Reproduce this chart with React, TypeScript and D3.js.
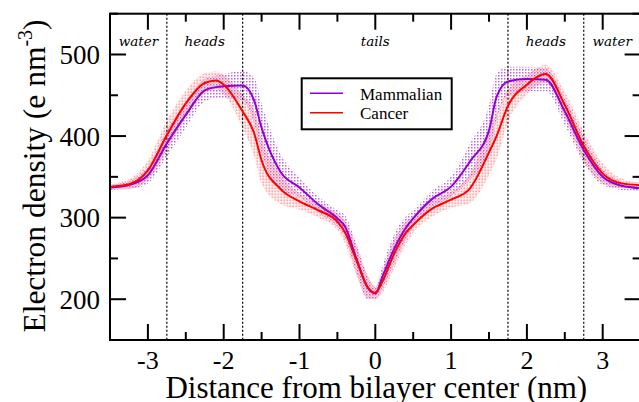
import * as d3 from "d3";

// distance from bilayer center (nm)
const xs = [-3.5, -3.25, -3, -2.75, -2.5, -2.25, -2.1, -2, -1.75, -1.6, -1.5, -1.25, -1, -0.75, -0.5, -0.4, -0.25, -0.1, 0, 0.1, 0.25, 0.4, 0.5, 0.75, 1, 1.25, 1.5, 1.6, 1.75, 2, 2.25, 2.5, 2.75, 3, 3.25, 3.5];
const mammalian = [337, 340, 352, 391, 426, 456, 460, 461, 462, 444, 410, 356, 337, 316, 299, 289, 250, 214, 207, 229, 262, 287, 299, 323, 338, 369, 407, 448, 467, 470, 469, 430, 383, 350, 339, 336];
const mammalianErr = [3, 5, 10, 16, 16, 14, 14, 15, 18, 28, 30, 22, 12, 10, 10, 14, 18, 14, 7, 14, 18, 14, 10, 10, 12, 22, 30, 28, 18, 15, 14, 16, 16, 10, 5, 3];
const cancer = [338, 341, 358, 401, 440, 465, 468, 463, 430, 404, 370, 335, 320, 309, 295, 282, 248, 215, 208, 223, 256, 281, 291, 311, 322, 336, 380, 400, 437, 463, 476, 438, 388, 354, 342, 340];
const cancerErr = [3, 6, 12, 18, 16, 12, 11, 12, 20, 28, 28, 18, 10, 9, 10, 14, 18, 14, 8, 14, 18, 14, 10, 10, 10, 18, 28, 28, 20, 12, 11, 16, 18, 12, 6, 3];

const xTicks = [-3, -2, -1, 0, 1, 2, 3];
const xMinor = [-3.5, -2.5, -1.5, -0.5, 0.5, 1.5, 2.5, 3.5];
const yTicks = [200, 300, 400, 500];
const yMinor = [150, 250, 350, 450, 550];

const boundaries = [-2.75, -1.75, 1.75, 2.75];
const regions = ["water", "heads", "tails", "heads", "water"];

const series = [
  { name: "Mammalian", values: mammalian, err: mammalianErr, color: "#9400d3", pat: "dotsM" },
  { name: "Cancer", values: cancer, err: cancerErr, color: "#ff0000", pat: "dotsC" },
];

export default function App() {
  const width = 639;
  const height = 402;
  const marginLeft = 110;
  const marginTop = 13.7;
  const plotRight = 640.6;
  const plotBottom = 340;

  const x = d3.scaleLinear().domain([-3.5, 3.5]).range([marginLeft, plotRight]);
  const y = d3.scaleLinear().domain([150, 550]).range([plotBottom, marginTop]);

  const line = d3
    .line<number>()
    .x((_, i) => x(xs[i]))
    .y((d) => y(d))
    .curve(d3.curveMonotoneX);

  const band = (vals: number[], err: number[]) =>
    d3
      .area<number>()
      .x((_, i) => x(xs[i]))
      .y0((d, i) => y(d - err[i]))
      .y1((d, i) => y(d + err[i]))
      .curve(d3.curveMonotoneX)(vals);

  const edges = [-3.5, ...boundaries, 3.5];

  return (
    <svg width={width} height={height} style={{ position: "absolute", left: 0, top: 0 }}>
      <defs>
        {series.map((s, i) => (
          <pattern
            key={s.pat}
            id={s.pat}
            width={3}
            height={3}
            x={i * 1.5}
            y={i * 1.5}
            patternUnits="userSpaceOnUse"
          >
            <rect x={0} y={0} width={1.5} height={1.5} fill={s.color} opacity={0.6} />
          </pattern>
        ))}
      </defs>

      {/* error bands */}
      {series.map((s) => (
        <path key={s.name + "band"} d={band(s.values, s.err) ?? ""} fill={`url(#${s.pat})`} />
      ))}

      {/* region boundaries */}
      {boundaries.map((b) => (
        <line
          key={b}
          x1={x(b)}
          x2={x(b)}
          y1={marginTop}
          y2={plotBottom}
          stroke="black"
          strokeWidth={1.2}
          strokeDasharray="2 2"
        />
      ))}
      {regions.map((r, i) => (
        <text
          key={i}
          x={x((edges[i] + edges[i + 1]) / 2)}
          y={46}
          textAnchor="middle"
          fontFamily="DejaVu Serif"
          fontStyle="italic"
          fontSize={13.5}
        >
          {r}
        </text>
      ))}

      {/* lines */}
      {series.map((s) => (
        <path key={s.name} d={line(s.values) ?? ""} fill="none" stroke={s.color} strokeWidth={2} />
      ))}

      {/* frame */}
      <rect
        x={marginLeft}
        y={marginTop}
        width={plotRight - marginLeft}
        height={plotBottom - marginTop}
        fill="none"
        stroke="black"
        strokeWidth={2}
      />

      {/* x ticks */}
      {xTicks.map((t) => (
        <g key={t}>
          <line x1={x(t)} x2={x(t)} y1={plotBottom} y2={plotBottom - 16} stroke="black" strokeWidth={2} />
          <line x1={x(t)} x2={x(t)} y1={marginTop} y2={marginTop + 16} stroke="black" strokeWidth={2} />
          <text x={x(t)} y={369} textAnchor="middle" fontFamily="Liberation Serif" fontSize={26}>
            {t < 0 ? `-${Math.abs(t)}` : t}
          </text>
        </g>
      ))}
      {xMinor.map((t) => (
        <g key={t}>
          <line x1={x(t)} x2={x(t)} y1={plotBottom} y2={plotBottom - 8} stroke="black" strokeWidth={2} />
          <line x1={x(t)} x2={x(t)} y1={marginTop} y2={marginTop + 8} stroke="black" strokeWidth={2} />
        </g>
      ))}

      {/* y ticks */}
      {yTicks.map((t) => (
        <g key={t}>
          <line x1={marginLeft} x2={marginLeft + 16} y1={y(t)} y2={y(t)} stroke="black" strokeWidth={2} />
          <line x1={plotRight} x2={plotRight - 16} y1={y(t)} y2={y(t)} stroke="black" strokeWidth={2} />
          <text
            x={100}
            y={y(t)}
            dy="0.35em"
            textAnchor="end"
            fontFamily="Liberation Serif"
            fontSize={27}
          >
            {t}
          </text>
        </g>
      ))}
      {yMinor.map((t) => (
        <g key={t}>
          <line x1={marginLeft} x2={marginLeft + 8} y1={y(t)} y2={y(t)} stroke="black" strokeWidth={2} />
          <line x1={plotRight} x2={plotRight - 8} y1={y(t)} y2={y(t)} stroke="black" strokeWidth={2} />
        </g>
      ))}

      {/* axis titles */}
      <text x={(marginLeft + plotRight) / 2 + 1} y={397.5} textAnchor="middle" fontFamily="Liberation Serif" fontSize={31}>
        Distance from bilayer center (nm)
      </text>
      <text
        transform="translate(45,176) rotate(-90)"
        textAnchor="middle"
        fontFamily="Liberation Serif"
        fontSize={31.5}
      >
        Electron density (e nm
        <tspan fontSize={20} dy={-13}>
          -3
        </tspan>
        <tspan dy={13}>)</tspan>
      </text>

      {/* legend */}
      <rect x={301.7} y={78.3} width={150} height={51} fill="white" stroke="black" strokeWidth={2} />
      {series.map((s, i) => (
        <g key={s.name + "leg"}>
          <line x1={310} x2={343} y1={93.3 + i * 19.4} y2={93.3 + i * 19.4} stroke={s.color} strokeWidth={1.5} />
          <text x={360} y={100 + i * 19.4} fontFamily="Liberation Serif" fontSize={17}>
            {s.name}
          </text>
        </g>
      ))}
    </svg>
  );
}
